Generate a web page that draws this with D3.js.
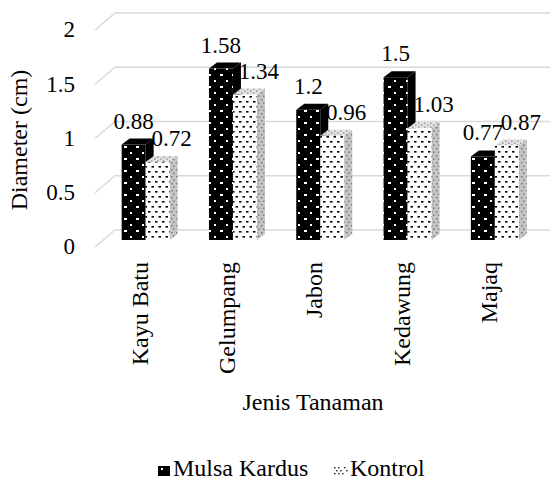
<!DOCTYPE html>
<html>
<head>
<meta charset="utf-8">
<script src="https://cdn.jsdelivr.net/npm/d3@7"></script>
<style>
  html, body { margin: 0; padding: 0; background: #fff; }
</style>
</head>
<body>
<svg id="chart" width="550" height="484"></svg>
<script>
const categories = ["Kayu Batu", "Gelumpang", "Jabon", "Kedawung", "Majaq"];
const seriesNames = ["Mulsa Kardus", "Kontrol"];
const mulsaKardus = [0.88, 1.58, 1.2, 1.5, 0.77];
const kontrol = [0.72, 1.34, 0.96, 1.03, 0.87];
const yTicks = [0, 0.5, 1, 1.5, 2];
const yTickLabels = ["0", "0.5", "1", "1.5", "2"];
const valueLabels = [["0.88", "1.58", "1.2", "1.5", "0.77"], ["0.72", "1.34", "0.96", "1.03", "0.87"]];
const xTitle = "Jenis Tanaman";
const yTitle = "Diameter (cm)";

const seriesValues = [mulsaKardus, kontrol];

const FONT = "Liberation Serif";
const svg = d3.select("#chart");
const FS_NUM = 23, FS_TXT = 24;

// 3D offsets
const WX = 20, WY = -17;   // back wall offset
const BX = 7, BY = -7;     // bar front plane offset
const DX = 8, DY = -6;     // bar depth

const x = d3.scaleBand().domain(categories).range([95, 531.5]).paddingInner(0).paddingOuter(0);
const sub = d3.scaleBand().domain(seriesNames).range([0, x.bandwidth()]).paddingInner(0).paddingOuter(0.82);
const y = d3.scaleLinear().domain([0, 2]).range([247, 30]);

// Patterns
const defs = svg.append("defs");
function pat(id, w, h, bg, fg, dots) {
  const p = defs.append("pattern").attr("id", id).attr("patternUnits", "userSpaceOnUse")
    .attr("width", w).attr("height", h);
  p.append("rect").attr("width", w).attr("height", h).attr("fill", bg);
  dots.forEach(d => p.append("rect").attr("x", d[0]).attr("y", d[1]).attr("width", d[2]).attr("height", d[3]).attr("fill", fg));
}
pat("pBlack", 12, 12, "#000", "#fff", [[4, 2, 3, 2], [10, 8, 3, 2]]);
pat("pKontrol", 7, 10, "#fff", "#000", [[1, 1, 2.5, 1.6], [4.5, 6, 2.5, 1.6]]);
pat("pKontrolSide", 5, 7, "#c4c4c4", "#7a7a7a", [[1, 1, 1.6, 1.4], [3, 4.5, 1.6, 1.4]]);
pat("pKontrolTop", 6, 4, "#e2e2e2", "#8a8a8a", [[1, 0.5, 1.6, 1.2], [4, 2.5, 1.6, 1.2]]);

const fills = [
  { front: "url(#pBlack)", top: "#000", side: "#000" },
  { front: "url(#pKontrol)", top: "url(#pKontrolTop)", side: "url(#pKontrolSide)" }
];

function txt(sel, fs) {
  return sel.style("font-family", FONT).attr("font-size", fs).attr("fill", "#000");
}

// Gridlines (back wall + slanted side wall)
const grid = svg.append("g").attr("stroke", "#d9d9d9").attr("stroke-width", 1.5).attr("fill", "none");
yTicks.forEach(t => {
  grid.append("path").attr("d",
    `M${x.range()[0]},${y(t)} L${x.range()[0] + WX},${y(t) + WY} L550,${y(t) + WY}`);
});

// Y tick labels
txt(svg.append("g").selectAll("text").data(yTicks).join("text")
  .attr("x", 75).attr("y", d => y(d)).attr("dy", "0.32em")
  .attr("text-anchor", "end"), FS_NUM)
  .text((d, i) => yTickLabels[i]);

// Bars data
const bars = [];
categories.forEach((c, i) => {
  seriesNames.forEach((s, si) => {
    const v = seriesValues[si][i];
    const x0 = x(c) + sub(s) + BX;
    const w = sub.bandwidth();
    const yb = y(0) + BY;
    const yt = y(v) + BY;
    bars.push({ c, s, si, v, x0, w, yb, yt, label: valueLabels[si][i] });
  });
});

function drawLabels(si) {
  txt(svg.append("g").selectAll("text").data(bars.filter(b => b.si === si)).join("text")
    .attr("x", b => b.x0 + b.w / 2 + (si === 1 ? 14 : 0))
    .attr("y", b => b.yt + DY - 10)
    .attr("text-anchor", "middle"), FS_NUM)
    .text(b => b.label);
}

// Kontrol labels sit beneath the bars
drawLabels(1);

const gBars = svg.append("g");
bars.forEach(b => {
  const f = fills[b.si];
  const g = gBars.append("g");
  g.append("path").attr("fill", f.side).attr("d",
    `M${b.x0 + b.w},${b.yt} L${b.x0 + b.w + DX},${b.yt + DY} L${b.x0 + b.w + DX},${b.yb + DY} L${b.x0 + b.w},${b.yb}Z`);
  g.append("path").attr("fill", f.top).attr("d",
    `M${b.x0},${b.yt} L${b.x0 + DX},${b.yt + DY} L${b.x0 + b.w + DX},${b.yt + DY} L${b.x0 + b.w},${b.yt}Z`);
  g.append("rect").attr("x", b.x0).attr("y", b.yt).attr("width", b.w).attr("height", b.yb - b.yt)
    .attr("fill", f.front);
});

drawLabels(0);

// Category labels
txt(svg.append("g").selectAll("text").data(categories).join("text")
  .attr("transform", d => `translate(${x(d) + x.bandwidth() / 2 + 1},262) rotate(-90)`)
  .attr("text-anchor", "end").attr("dominant-baseline", "central"), FS_TXT)
  .text(d => d);

// Axis titles
txt(svg.append("text").attr("x", 313).attr("y", 410).attr("text-anchor", "middle"), FS_TXT).text(xTitle);
txt(svg.append("text").attr("transform", "translate(27,140) rotate(-90)").attr("text-anchor", "middle"), FS_TXT).text(yTitle);

// Legend
const legend = svg.append("g");
const legItems = [
  { name: seriesNames[0], ix: 158, tx: 173 },
  { name: seriesNames[1], ix: 334, tx: 350 }
];
legItems.forEach((it, i) => {
  if (i === 0) {
    legend.append("rect").attr("x", it.ix).attr("y", 466).attr("width", 12).attr("height", 10).attr("fill", "#000");
    legend.append("rect").attr("x", it.ix + 3).attr("y", 468).attr("width", 2).attr("height", 2).attr("fill", "#fff");
  } else {
    const dots = [[0, 0], [4, 0], [2, 3], [6, 3], [0, 6], [4, 6], [8, 6], [10, 0], [12, 3]];
    dots.forEach(d => legend.append("rect").attr("x", it.ix + d[0]).attr("y", 467 + d[1])
      .attr("width", 1.6).attr("height", 1.4).attr("fill", "#333"));
  }
  txt(legend.append("text").attr("x", it.tx).attr("y", 476), FS_TXT).text(it.name);
});
</script>
</body>
</html>
